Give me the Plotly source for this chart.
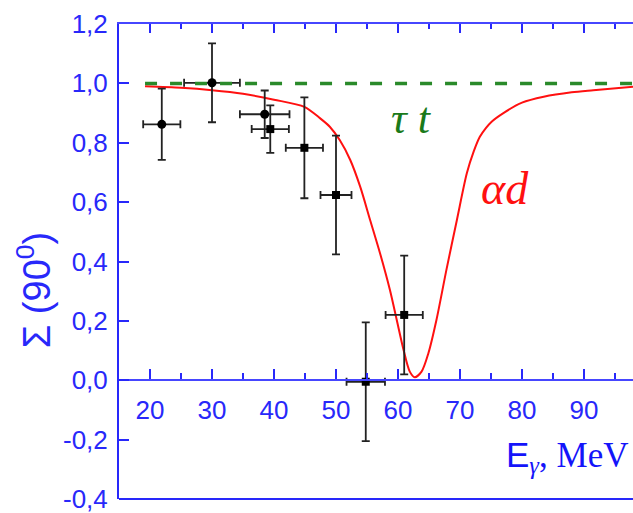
import plotly.graph_objects as go

# ---- data ----
circ_x = [21.9, 30.0, 38.5]
circ_y = [0.862, 1.002, 0.896]
circ_ex = [3.0, 4.5, 4.0]
circ_ey = [0.12, 0.133, 0.08]

sq_x = [39.4, 44.9, 50.0, 54.8, 61.0]
sq_y = [0.846, 0.783, 0.624, -0.005, 0.22]
sq_ex = [3.0, 3.0, 2.5, 3.1, 3.0]
sq_ey = [0.08, 0.17, 0.2, 0.2, 0.2]

curve_x = [19.2, 25, 30, 35, 40, 44.9, 47.4, 49.0, 50.6, 52.3, 53.9, 55.5, 57.1, 58.7,
           59.8, 60.9, 61.9, 62.7, 63.8, 64.9, 66.2, 67.8, 69.5, 71.1, 72.2, 73.2, 74.2,
           75.1, 77, 80, 83.5, 88, 91.5, 98]
curve_y = [0.99, 0.985, 0.977, 0.965, 0.945, 0.921, 0.883, 0.854, 0.809, 0.742, 0.652,
           0.540, 0.428, 0.304, 0.203, 0.102, 0.029, 0.010, 0.029, 0.091, 0.203, 0.371,
           0.540, 0.697, 0.77, 0.82, 0.85, 0.871, 0.90, 0.935, 0.955, 0.97, 0.977, 0.989]

tt_x = [19.2, 98]
tt_y = [1.0, 1.0]

y_ticks = [-0.4, -0.2, 0.0, 0.2, 0.4, 0.6, 0.8, 1.0, 1.2]
y_ticktext = ["-0,4", "-0,2", "0,0", "0,2", "0,4", "0,6", "0,8", "1,0", "1,2"]
x_ticks = [20, 30, 40, 50, 60, 70, 80, 90]

BLUE = "rgb(40,40,250)"
LINEBLUE = "rgb(70,70,255)"
SANS = "Liberation Sans, Arial"
SERIF = "Liberation Serif, Times New Roman"

fig = go.Figure()

fig.add_trace(go.Scatter(x=tt_x, y=tt_y, mode="lines", xaxis="x2",
                         line=dict(color="#2a8a2a", width=3.5, dash="12px,13px"),
                         hoverinfo="skip", showlegend=False))
fig.add_trace(go.Scatter(x=curve_x, y=curve_y, mode="lines",
                         line=dict(color="#ff1010", width=2, shape="spline", smoothing=0.8),
                         showlegend=False))
err_col = "#222222"
fig.add_trace(go.Scatter(x=circ_x, y=circ_y, mode="markers",
                         marker=dict(symbol="circle", size=9, color="black"),
                         error_x=dict(type="data", array=circ_ex, color=err_col, thickness=1.8, width=4),
                         error_y=dict(type="data", array=circ_ey, color=err_col, thickness=1.8, width=4),
                         showlegend=False))
fig.add_trace(go.Scatter(x=sq_x, y=sq_y, mode="markers",
                         marker=dict(symbol="square", size=8, color="black"),
                         error_x=dict(type="data", array=sq_ex, color=err_col, thickness=1.8, width=4),
                         error_y=dict(type="data", array=sq_ey, color=err_col, thickness=1.8, width=4),
                         showlegend=False))

xr = [15, 15 + 514 / 6.2]

fig.update_layout(
    width=633, height=513,
    margin=dict(l=119, r=0, t=24, b=14),
    paper_bgcolor="white", plot_bgcolor="white",
    showlegend=False,
    xaxis=dict(range=xr, anchor="free", position=0.25, showgrid=False, zeroline=False,
               showline=True, linecolor=LINEBLUE, linewidth=2,
               tickvals=x_ticks, ticks="inside", ticklen=10, tickwidth=2, tickcolor=BLUE,
               minor=dict(dtick=5, tick0=15, ticks="inside", ticklen=6, tickwidth=2, tickcolor=BLUE),
               tickfont=dict(family=SANS, size=26, color=BLUE),
               ticklabelstandoff=7),
    xaxis2=dict(range=xr, overlaying="x", matches="x", side="top", anchor="y",
                showgrid=False, zeroline=False, showline=True, linecolor=LINEBLUE, linewidth=2,
                tickvals=x_ticks, ticks="inside", ticklen=9, tickwidth=2, tickcolor=BLUE,
                minor=dict(dtick=5, tick0=15, ticks="inside", ticklen=5, tickwidth=2, tickcolor=BLUE),
                showticklabels=False),
    yaxis=dict(range=[-0.4, 1.2], showgrid=False, zeroline=False, showline=True,
               linecolor=BLUE, linewidth=2, tickvals=y_ticks, ticktext=y_ticktext,
               ticks="inside", ticklen=10, tickwidth=2, tickcolor=BLUE,
               tickfont=dict(family=SANS, size=26, color=BLUE), ticklabelstandoff=4,
               ticklabeloverflow="allow"),
    shapes=[dict(type="line", xref="paper", yref="paper", x0=0, x1=1, y0=0, y1=0,
                 line=dict(color=BLUE, width=2))],
    annotations=[
        dict(text="Σ (90<sup>0</sup>)", xref="paper", yref="paper", x=-0.165, y=0.44,
             textangle=-90, showarrow=False, xanchor="center", yanchor="middle",
             font=dict(family=SANS, size=38, color=BLUE)),
        dict(text="<span style='font-family:Liberation Sans, Arial'>E</span><sub><i>γ</i></sub>, MeV",
             xref="paper", yref="paper", x=0.995, y=0.088, showarrow=False,
             xanchor="right", yanchor="middle",
             font=dict(family=SERIF, size=35, color="rgb(20,20,250)")),
        dict(text="<i>τ t</i>", x=62.1, y=0.883, showarrow=False,
             font=dict(family=SERIF, size=44, color="#1a7a1a")),
        dict(text="<i>αd</i>", x=77.3, y=0.645, showarrow=False,
             font=dict(family=SERIF, size=46, color="#ff1010")),
    ],
)

fig.write_html("out.html")
